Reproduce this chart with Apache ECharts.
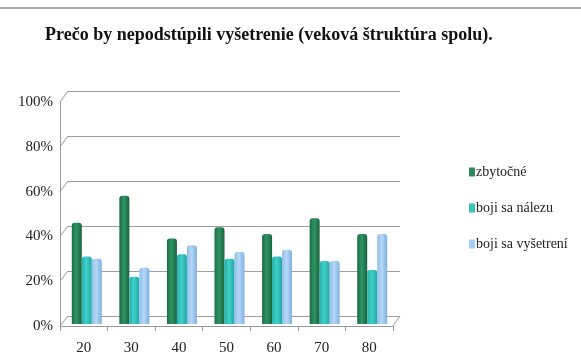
<!DOCTYPE html>
<html><head><meta charset="utf-8">
<script src="https://cdn.jsdelivr.net/npm/echarts@6/dist/echarts.min.js"></script>
<style>html,body{margin:0;padding:0;background:#fff}#c{width:581px;height:356px}</style>
</head><body><div id="c"></div>
<script>
const title = 'Prečo by nepodstúpili vyšetrenie (veková štruktúra spolu).';
const categories = ['20','30','40','50','60','70','80'];
const seriesNames = ['zbytočné','boji sa nálezu','boji sa vyšetrení'];
const zbytocne = [45, 57, 38, 43, 40, 47, 40];
const bojiNalezu = [30, 21, 31, 29, 30, 28, 24];
const bojiVysetreni = [29, 25, 35, 32, 33, 28, 40];
const yTicks = [0, 20, 40, 60, 80, 100];

const serif = '"Liberation Serif","DejaVu Serif",serif';
function grad(a,b,c){return {type:'linear',x:0,y:0,x2:1,y2:0,colorStops:[{offset:0,color:a},{offset:0.45,color:b},{offset:1,color:c}]};}
const colors = [grad('#1d6b45','#2f9463','#1b6340'), grad('#25b0aa','#3fd0ca','#22a7a1'), grad('#8fbde8','#b4d8f8','#7fb0df')];
const legendColors = ['#2a8a5c','#35c4be','#a6cdf2'];
const chart = echarts.init(document.getElementById('c'));
const vals = [zbytocne, bojiNalezu, bojiVysetreni];
chart.setOption({
  animation:false,
  title:{text:title,left:40,top:21,textStyle:{fontFamily:serif,fontWeight:'bold',fontSize:18,color:'#111'}},
  legend:{orient:'vertical',left:464,top:160,itemWidth:6,itemHeight:9,itemGap:22,icon:'rect',
    textStyle:{fontFamily:serif,fontSize:14,color:'#222',padding:[0,0,0,-4]},
    data:seriesNames.map((n,i)=>({name:n,itemStyle:{color:legendColors[i]}}))},
  grid:[
    {left:68,right:181,top:91,bottom:40},
    {left:60,right:188,top:102,bottom:29},
    {left:63,right:185,top:99,bottom:32}
  ],
  xAxis:[
    {gridIndex:0,type:'category',data:categories,show:false},
    {gridIndex:1,type:'category',data:categories,axisLine:{lineStyle:{color:'#999'}},axisTick:{show:true,length:5,lineStyle:{color:'#999'}},
      axisLabel:{fontFamily:serif,fontSize:15,color:'#222',margin:15}},
    {gridIndex:2,type:'category',data:categories,show:false}
  ],
  yAxis:[
    {gridIndex:0,type:'value',min:0,max:100,interval:20,axisLabel:{show:false},axisLine:{show:false},axisTick:{show:false},splitLine:{lineStyle:{color:'#a0a0a0',width:1}}},
    {gridIndex:1,type:'value',min:0,max:100,interval:20,splitLine:{show:false},axisLine:{show:true,lineStyle:{color:'#999'}},axisTick:{show:false},
      axisLabel:{fontFamily:serif,fontSize:15,color:'#222',margin:7,formatter:v=>yTicks.includes(v)?v+'%':''}},
    {gridIndex:2,type:'value',min:0,max:100,show:false,splitLine:{show:false}}
  ],
  series: vals.map((d,i)=>({name:seriesNames[i],type:'bar',xAxisIndex:2,yAxisIndex:2,data:d,barWidth:10,barGap:'0%',
    itemStyle:{color:colors[i],borderRadius:[3,3,0,0]}}))
});
const els=[{type:'line',shape:{x1:0,y1:8,x2:581,y2:8},style:{stroke:'#8a8a8a',lineWidth:1.5}}];
yTicks.forEach(v=>{
  const yf=chart.convertToPixel({yAxisIndex:1},v), yb=chart.convertToPixel({yAxisIndex:0},v);
  els.push({type:'line',shape:{x1:60,y1:yf,x2:68,y2:yb},style:{stroke:'#999',lineWidth:1}});
});
const y0f=chart.convertToPixel({yAxisIndex:1},0), y0b=chart.convertToPixel({yAxisIndex:0},0);
els.push({type:'line',shape:{x1:393,y1:y0f,x2:400,y2:y0b},style:{stroke:'#999',lineWidth:1}});
chart.setOption({graphic:els});
</script></body></html>
